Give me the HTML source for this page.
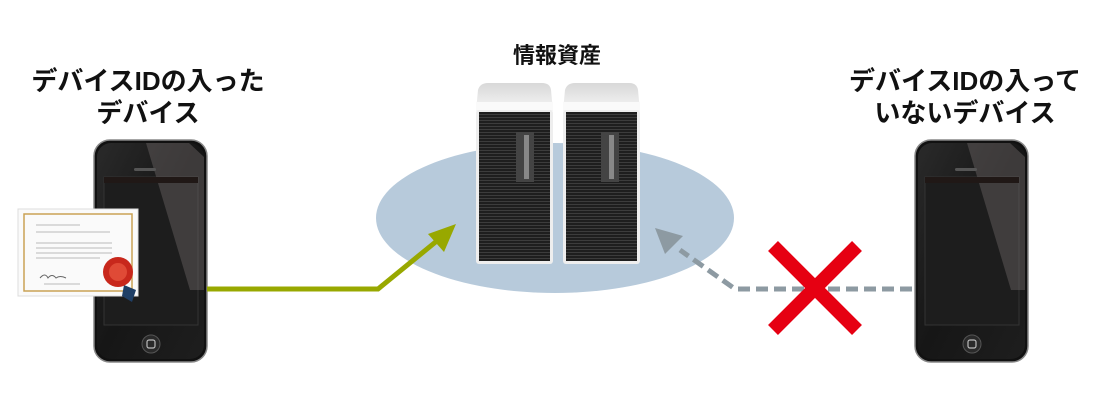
<!DOCTYPE html>
<html><head><meta charset="utf-8"><style>
html,body{margin:0;padding:0;background:#fff;}
svg{display:block}
text{font-family:"Liberation Sans","Noto Sans CJK JP",sans-serif;font-weight:bold;fill:#111;}
</style></head><body>
<svg width="1114" height="409" viewBox="0 0 1114 409" xmlns="http://www.w3.org/2000/svg">
<defs>
<linearGradient id="ph" x1="0" y1="0" x2="1" y2="1">
<stop offset="0" stop-color="#2a2a2a"/><stop offset="0.5" stop-color="#161616"/><stop offset="1" stop-color="#1e1e1e"/>
</linearGradient>
<linearGradient id="top" x1="0" y1="0" x2="0" y2="1">
<stop offset="0" stop-color="#d8d8d8"/><stop offset="1" stop-color="#f6f6f6"/>
</linearGradient>
<pattern id="grill" width="4" height="3" patternUnits="userSpaceOnUse">
<rect width="4" height="3" fill="#1e1e1e"/><rect width="4" height="1" fill="#3c3c3c"/>
</pattern>
<g id="phone">
<rect x="0" y="0" width="113" height="222" rx="16" fill="#111" stroke="#888" stroke-width="1.5"/>
<rect x="3" y="3" width="107" height="216" rx="14" fill="url(#ph)"/>
<rect x="10" y="37" width="94" height="148" fill="#1d1d1d" stroke="#333" stroke-width="1"/>
<polygon points="52,3 95,3 110,17 110,150 96,150" fill="#6d6766" opacity="0.45"/>
<rect x="10" y="37" width="94" height="6" fill="#201816"/>
<rect x="40" y="28" width="22" height="3" rx="1.5" fill="#555"/>
<circle cx="57" cy="204" r="9" fill="#2a2a2a" stroke="#555"/>
<rect x="53" y="200" width="8" height="8" rx="2" fill="none" stroke="#bbb" stroke-width="1.2"/>
</g>
</defs>

<text x="148" y="90" font-size="26" text-anchor="middle">デバイスIDの入った</text>
<text x="148" y="122" font-size="26" text-anchor="middle">デバイス</text>
<text x="557" y="63" font-size="22" text-anchor="middle">情報資産</text>
<text x="965" y="90" font-size="26" text-anchor="middle">デバイスIDの入って</text>
<text x="965" y="122" font-size="26" text-anchor="middle">いないデバイス</text>

<ellipse cx="555" cy="218" rx="179" ry="75" fill="#b7cadb"/>

<g>
<path d="M476,111 L478,90 Q480,83 488,83 L542,83 Q550,83 551,90 L553,111 Z" fill="url(#top)"/>
<rect x="476" y="102" width="77" height="8" fill="#fafafa"/>
<rect x="476" y="110" width="77" height="154" rx="3" fill="#eee"/>
<rect x="479" y="112" width="71" height="149" fill="url(#grill)"/>
<rect x="516" y="132" width="18" height="50" fill="#444"/><rect x="524" y="135" width="5" height="44" fill="#888"/>
<path d="M563,111 L565,90 Q567,83 575,83 L629,83 Q637,83 638,90 L640,111 Z" fill="url(#top)"/>
<rect x="563" y="102" width="77" height="8" fill="#fafafa"/>
<rect x="563" y="110" width="77" height="154" rx="3" fill="#eee"/>
<rect x="566" y="112" width="71" height="149" fill="url(#grill)"/>
<rect x="601" y="132" width="18" height="50" fill="#444"/><rect x="609" y="135" width="5" height="44" fill="#888"/>
</g>

<use href="#phone" x="94" y="140"/>
<use href="#phone" x="915" y="140"/>

<g>
<rect x="18" y="209" width="120" height="87" fill="#fafafa" stroke="#ddd"/>
<rect x="24" y="214" width="108" height="77" fill="none" stroke="#c9a255" stroke-width="1.5"/>
<g stroke="#bbb" stroke-width="1">
<line x1="36" y1="225" x2="80" y2="225"/><line x1="36" y1="232" x2="110" y2="232"/>
<line x1="36" y1="243" x2="112" y2="243"/><line x1="36" y1="248" x2="112" y2="248"/>
<line x1="36" y1="253" x2="112" y2="253"/><line x1="36" y1="258" x2="100" y2="258"/>
<line x1="44" y1="284" x2="80" y2="284"/>
</g>
<path d="M40,278 q5,-6 8,0 q4,-5 8,0 q4,-3 10,0" stroke="#666" fill="none"/>
<polygon points="124,285 136,290 132,302 122,296" fill="#1f3f66"/>
<circle cx="118" cy="272" r="15" fill="#c8281c"/>
<circle cx="118" cy="272" r="9" fill="#e04a36"/>
</g>

<polyline points="207,289 378,289 438,240" fill="none" stroke="#98a800" stroke-width="5"/>
<polygon points="456,224 428,234 444,252" fill="#98a800"/>

<polyline points="912,289 735,289 680,250" fill="none" stroke="#8d9aa2" stroke-width="5" stroke-dasharray="12,6"/>
<polygon points="655,228 683,236 665,254" fill="#8d9aa2"/>

<g stroke="#e60012" stroke-width="14">
<line x1="773" y1="246" x2="857" y2="330"/>
<line x1="857" y1="246" x2="773" y2="330"/>
</g>
</svg>
</body></html>
